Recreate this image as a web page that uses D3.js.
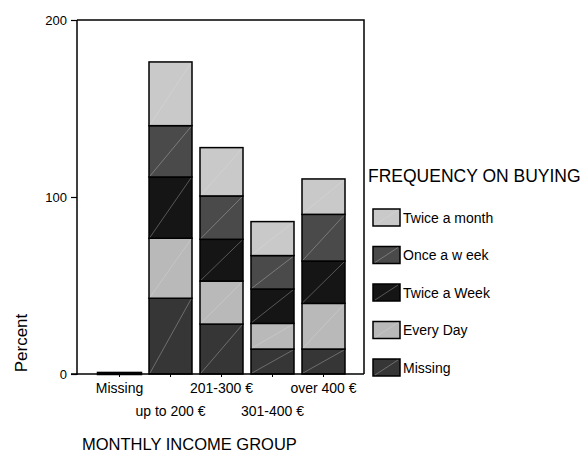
<!DOCTYPE html>
<html>
<head>
<meta charset="utf-8">
<script src="https://cdn.jsdelivr.net/npm/d3@7"></script>
<style>
  body { margin: 0; background: #fff; }
  text { font-family: "Liberation Sans", Arial, sans-serif; fill: #000; }
</style>
</head>
<body>
<div id="chart"></div>
<script>
// categories on the x axis
var groups = ["Missing", "up to 200 €", "201-300 €", "301-400 €", "over 400 €"];
// stack order, bottom to top
var freqs = ["Missing", "Every Day", "Twice a Week", "Once a week", "Twice a month"];
// percent values per frequency (one per income group)
var missingVals    = [0.6, 42.8, 28.2, 14.1, 14.1];
var everyDayVals   = [0, 33.9, 24.3, 14.5, 25.8];
var twiceWeekVals  = [0, 34.6, 23.6, 19.4, 23.9];
var onceWeekVals   = [0, 29.0, 24.5, 18.9, 26.4];
var twiceMonthVals = [0, 36.0, 27.3, 19.2, 20.0];
var yTicks = [0, 100, 200];
// legend order, top to bottom
var legendLabels = ["Twice a month", "Once a w eek", "Twice a Week", "Every Day", "Missing"];
var legendKeys = ["Twice a month", "Once a week", "Twice a Week", "Every Day", "Missing"];

(function()
{
    var colors = {
        "Missing": "#363636",
        "Every Day": "#b9b9b9",
        "Twice a Week": "#151515",
        "Once a week": "#4a4a4a",
        "Twice a month": "#c9c9c9"
    };

    var W = 588, H = 459;
    var svg = d3.select("#chart").append("svg")
        .attr("width", W).attr("height", H);

    // plot frame
    var pLeft = 77, pRight = 364, pTop = 20, pBottom = 374;

    var x = d3.scaleBand().domain(groups).range([98, 345]).paddingInner(8 / 51).paddingOuter(0);
    var y = d3.scaleLinear().domain([0, 200]).range([pBottom, pTop]);

    // build table for the stack
    var seriesVals = {
        "Missing": missingVals,
        "Every Day": everyDayVals,
        "Twice a Week": twiceWeekVals,
        "Once a week": onceWeekVals,
        "Twice a month": twiceMonthVals
    };
    var table = groups.map(function(g, i) {
        var row = { group: g };
        freqs.forEach(function(f) { row[f] = seriesVals[f][i]; });
        return row;
    });
    var stacked = d3.stack().keys(freqs)(table);

    // frame (top and right)
    svg.append("path")
        .attr("d", "M" + pLeft + "," + pTop + "H" + pRight + "V" + pBottom)
        .attr("fill", "none").attr("stroke", "#000").attr("stroke-width", 1.5);

    // bars
    var layers = svg.selectAll(".layer")
        .data(stacked)
        .enter().append("g")
        .attr("class", "layer");

    function segs(d) {
        return d.map(function(p) { return { key: d.key, p: p }; })
            .filter(function(e) { return e.p[1] - e.p[0] > 0; });
    }

    layers.selectAll("rect")
        .data(segs)
        .enter().append("rect")
        .attr("x", function(d) { return x(d.p.data.group); })
        .attr("width", x.bandwidth())
        .attr("y", function(d) { return y(d.p[1]); })
        .attr("height", function(d) { return y(d.p[0]) - y(d.p[1]); })
        .attr("fill", function(d) { return colors[d.key]; })
        .attr("stroke", "#000")
        .attr("stroke-width", function(d) { return d.p[1] - d.p[0] < 2 ? 2.5 : 1.5; });

    // faint diagonal in each segment
    layers.selectAll("line")
        .data(function(d) { return segs(d).filter(function(e) { return e.p[1] - e.p[0] > 2; }); })
        .enter().append("line")
        .attr("x1", function(d) { return x(d.p.data.group) + 1; })
        .attr("y1", function(d) { return y(d.p[0]) - 1; })
        .attr("x2", function(d) { return x(d.p.data.group) + x.bandwidth() - 1; })
        .attr("y2", function(d) { return y(d.p[1]) + 1; })
        .attr("stroke", "#e0e0e0")
        .attr("stroke-opacity", 0.55)
        .attr("stroke-width", 0.6);

    // y axis
    var yAxis = svg.append("g")
        .attr("transform", "translate(" + pLeft + ",0)")
        .call(d3.axisLeft(y).tickValues(yTicks).tickSize(6).tickPadding(4));
    yAxis.select(".domain").attr("stroke-width", 1.5).attr("d", "M0," + pTop + "V" + (pBottom + 1));
    yAxis.selectAll(".tick line").attr("stroke-width", 1.2);
    yAxis.selectAll(".tick text")
        .style("font-family", "Liberation Sans, Arial, sans-serif")
        .style("font-size", "13px");

    // x axis
    var xAxis = svg.append("g")
        .attr("transform", "translate(0," + pBottom + ")")
        .call(d3.axisBottom(x).tickSize(3).tickPadding(8));
    xAxis.select(".domain").attr("stroke-width", 1.5).attr("d", "M" + (pLeft - 6) + ",0H" + pRight);
    xAxis.selectAll(".tick text")
        .style("font-family", "Liberation Sans, Arial, sans-serif")
        .style("font-size", "14px")
        .attr("dy", function(d, i) { return i % 2 === 0 ? "0.55em" : "2.2em"; });

    // axis titles
    svg.append("text")
        .attr("transform", "translate(27,343) rotate(-90)")
        .attr("text-anchor", "middle")
        .style("font-size", "17px")
        .text("Percent");

    svg.append("text")
        .attr("x", 82).attr("y", 450)
        .style("font-size", "16.5px")
        .text("MONTHLY INCOME GROUP");

    // legend
    svg.append("text")
        .attr("x", 368).attr("y", 182)
        .style("font-size", "17.5px")
        .text("FREQUENCY ON BUYING");

    var leg = svg.selectAll(".leg")
        .data(legendKeys)
        .enter().append("g")
        .attr("class", "leg")
        .attr("transform", function(d, i) { return "translate(373," + (209 + i * 37.5) + ")"; });

    leg.append("rect")
        .attr("width", 27).attr("height", 17)
        .attr("fill", function(d) { return colors[d]; })
        .attr("stroke", "#000").attr("stroke-width", 1.5);
    leg.append("line")
        .attr("x1", 2).attr("y1", 16).attr("x2", 25).attr("y2", 1)
        .attr("stroke", "#e0e0e0").attr("stroke-opacity", 0.55).attr("stroke-width", 0.6);
    leg.append("text")
        .attr("x", 30).attr("y", 13.5)
        .style("font-size", "14px")
        .text(function(d, i) { return legendLabels[i]; });
})();
</script>
</body>
</html>
